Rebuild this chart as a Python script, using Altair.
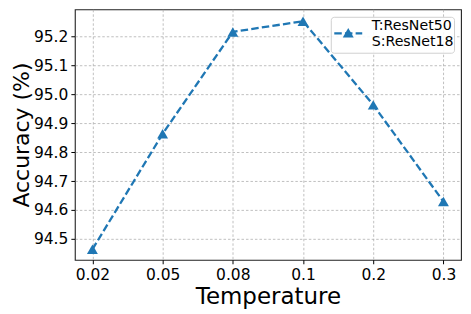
import altair as alt
import pandas as pd

temperatures = ["0.02", "0.05", "0.08", "0.1", "0.2", "0.3"]
accuracy = [94.464, 94.863, 95.215, 95.252, 94.963, 94.629]
legend_lines = ["T:ResNet50", "S:ResNet18"]
y_ticks = [94.5, 94.6, 94.7, 94.8, 94.9, 95.0, 95.1, 95.2]

df = pd.DataFrame({"Temperature": temperatures, "Accuracy": accuracy})
one = pd.DataFrame({"k": [0]})

FONT = "DejaVu Sans"
BLUE = "#1f77b4"
DASH = [7.5, 3.2]

x_enc = alt.X("Temperature:N", sort=temperatures,
              scale=alt.Scale(type="point", padding=0.25),
              axis=alt.Axis(title="Temperature", labelAngle=0))
y_enc = alt.Y("Accuracy:Q",
              scale=alt.Scale(domain=[94.428, 95.293], nice=False, zero=False),
              axis=alt.Axis(title="Accuracy (%)", values=y_ticks, format=".1f"))

line = alt.Chart(df).mark_line(
    strokeDash=DASH, strokeWidth=2.3, color=BLUE,
    point=alt.OverlayMarkDef(shape="triangle-up", size=120, filled=True, opacity=1, color=BLUE),
).encode(x=x_enc, y=y_enc)

# legend drawn as decoration (positions relative to the plot area)
leg_box = alt.Chart(one).mark_rect(fill="white", stroke="#cccccc", strokeWidth=1, cornerRadius=3, opacity=0.9).encode(
    x=alt.value(257), x2=alt.value(380.5), y=alt.value(8), y2=alt.value(44))
leg_line = alt.Chart(one).mark_rule(color=BLUE, strokeWidth=2.3, strokeDash=DASH).encode(
    x=alt.value(260), x2=alt.value(288), y=alt.value(24))
leg_tri = alt.Chart(one).mark_point(shape="triangle-up", size=120, filled=True, opacity=1, color=BLUE).encode(
    x=alt.value(274), y=alt.value(23.5))
leg_text1 = alt.Chart(one).mark_text(align="left", baseline="alphabetic", font=FONT, fontSize=14.2,
                                     color="black").encode(
    x=alt.value(297.5), y=alt.value(21), text=alt.value(legend_lines[0]))
leg_text2 = alt.Chart(one).mark_text(align="left", baseline="alphabetic", font=FONT, fontSize=14.2,
                                     color="black").encode(
    x=alt.value(297.5), y=alt.value(36.7), text=alt.value(legend_lines[1]))

chart = alt.layer(line, leg_box, leg_line, leg_tri, leg_text1, leg_text2).properties(
    width=387, height=251,
    autosize=alt.AutoSizeParams(type="none"),
    padding={"left": 67, "top": 1, "right": 2, "bottom": 50},
).configure_view(
    stroke="#222222", strokeWidth=1.1,
).configure_axis(
    labelFont=FONT, titleFont=FONT, labelFontSize=15.5, titleFontSize=23,
    titleFontWeight="normal", labelColor="black", titleColor="black",
    grid=True, gridColor="#b0b0b0", gridDash=[2.5, 2], gridWidth=0.8,
    domain=False, tickColor="black", tickSize=4, tickWidth=1, labelPadding=3,
).configure_axisX(titlePadding=2, labelPadding=4).configure_axisY(titlePadding=0, titleFontSize=22)

chart.save("out.html", embed_options={"renderer": "svg", "actions": False})
